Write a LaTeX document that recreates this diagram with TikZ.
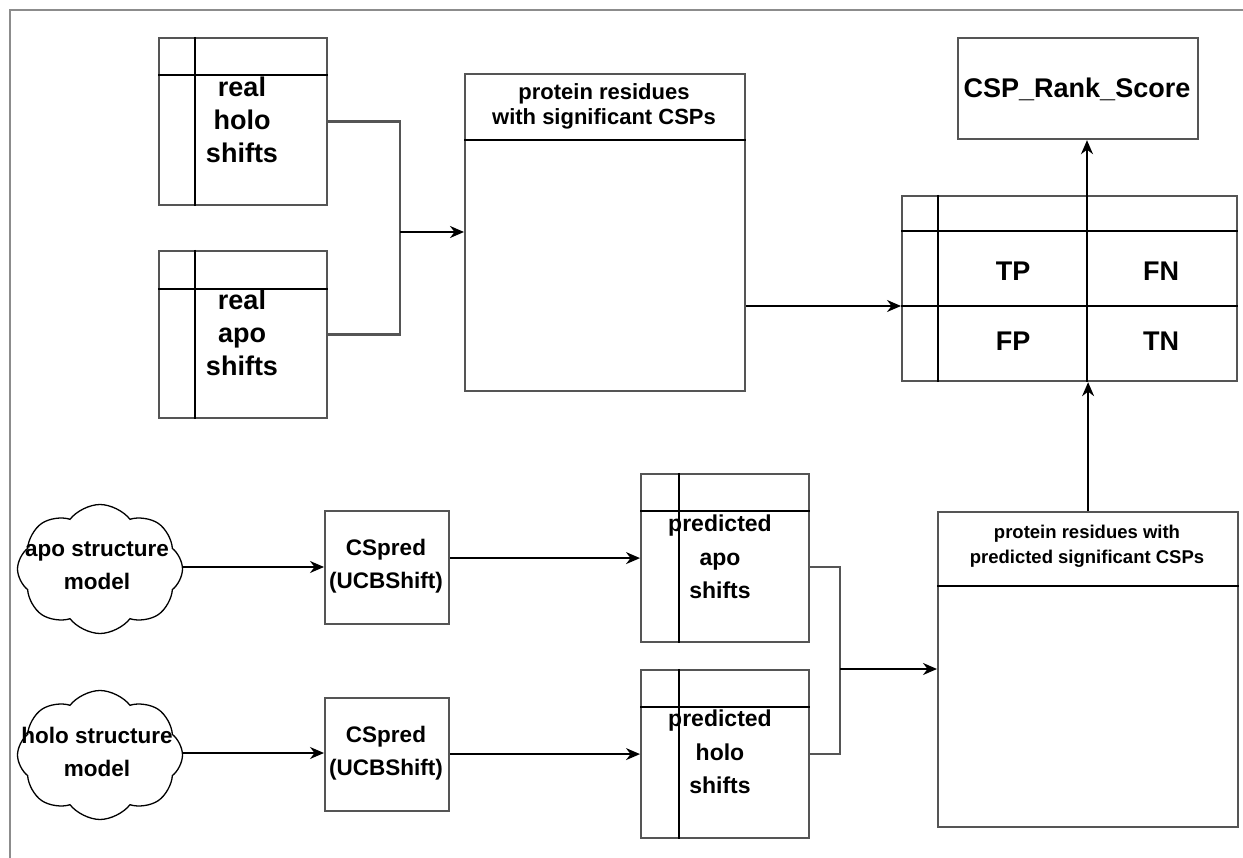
\documentclass[tikz,border=0pt]{standalone}
\usepackage{fontspec}
\setmainfont{Liberation Sans}
\usetikzlibrary{shapes.symbols,arrows.meta,calc}
\definecolor{boxgray}{RGB}{85,85,85}
\definecolor{framegray}{RGB}{140,140,140}
\newcommand\fBig{\fontsize{27}{33}\selectfont\bfseries}
\newcommand\fMid{\fontsize{23}{33.5}\selectfont\bfseries}
\newcommand\fHead{\fontsize{22}{25}\selectfont\bfseries}
\newcommand\fSmall{\fontsize{18.5}{25}\selectfont\bfseries}
\newcommand\fCs{\fontsize{22.5}{33}\selectfont\bfseries}
\begin{document}
\begin{tikzpicture}[x=1pt,y=-1pt,
  box/.style={draw=boxgray,line width=2.2pt,rectangle,inner sep=0pt,anchor=north west},
  inner/.style={draw=black,line width=1.4pt},
  joinline/.style={draw=boxgray,line width=2.2pt},
  arr/.style={draw=black,line width=1.7pt,-{Stealth[length=14pt,width=12pt]}},
  txt/.style={align=center,inner sep=0pt,text=black},
  cloudy/.style={shape=cloud,draw=black,line width=1.3pt,cloud puffs=8,cloud puff arc=105,
     cloud ignores aspect,minimum width=165pt,minimum height=129pt,inner sep=0pt}]
\useasboundingbox (0,0) rectangle (1243,858);
\fill[white] (0,0) rectangle (1243,858);
% frame
\draw[draw=framegray,line width=2pt] (9.5,858) -- (9.5,10) -- (1243,10);

% real holo shifts
\node[box,minimum width=168pt,minimum height=167pt] (rh) at (158,37) {};
\draw[inner] ($(rh.north west)+(0,38)$) -- ($(rh.north east)+(0,38)$);
\draw[inner] ($(rh.north west)+(37,0)$) -- ($(rh.south west)+(37,0)$);
\node[txt,font=\fBig] (rht) at (242,120) {real\\holo\\shifts};

% real apo shifts
\node[box,minimum width=168pt,minimum height=167pt] (ra) at (158,250) {};
\draw[inner] ($(ra.north west)+(0,39)$) -- ($(ra.north east)+(0,39)$);
\draw[inner] ($(ra.north west)+(37,0)$) -- ($(ra.south west)+(37,0)$);
\node[txt,font=\fBig] (rat) at (242,333) {real\\apo\\shifts};

% center box
\node[box,minimum width=280pt,minimum height=317pt] (ctr) at (464,73) {};
\draw[inner] ($(ctr.north west)+(0,67)$) -- ($(ctr.north east)+(0,67)$);
\node[txt,font=\fHead] (ctrt) at (604,106) {protein residues\\with significant CSPs};

% CSP rank score
\node[box,minimum width=240pt,minimum height=101pt] (csp) at (957,37) {};
\node[txt,font=\fBig] (cspt) at (1077,89) {CSP\_Rank\_Score};

% confusion matrix
\node[box,minimum width=335pt,minimum height=185pt] (cm) at (901,195) {};
\draw[inner] ($(cm.north west)+(0,36)$) -- ($(cm.north east)+(0,36)$);
\draw[inner] ($(cm.north west)+(0,111)$) -- ($(cm.north east)+(0,111)$);
\draw[inner] ($(cm.north west)+(37,0)$) -- ($(cm.south west)+(37,0)$);
\draw[inner] ($(cm.north west)+(186,0)$) -- ($(cm.south west)+(186,0)$);
\node[txt,font=\fBig] (tp) at (1013,271) {TP};
\node[txt,font=\fBig] (fn) at (1161,271) {FN};
\node[txt,font=\fBig] (fp) at (1013,341) {FP};
\node[txt,font=\fBig] (tn) at (1161,341) {TN};

% bottom box
\node[box,minimum width=300pt,minimum height=315pt] (bot) at (937,511) {};
\draw[inner] ($(bot.north west)+(0,75)$) -- ($(bot.north east)+(0,75)$);
\node[txt,font=\fSmall] (bott) at (1087,546) {protein residues with\\predicted significant CSPs};

% clouds
\node[cloudy] (apoc) at (100,569) {};
\node[txt,font=\fCs] (apoct) at (97,566) {apo structure\\model};
\node[cloudy] (holoc) at (100,755) {};
\node[txt,font=\fCs] (holoct) at (97,752) {holo structure\\model};

% CSpred boxes
\node[box,minimum width=124pt,minimum height=113pt] (cs1) at (324,510) {};
\node[txt,font=\fCs] (cs1t) at (386,566) {CSpred\\(UCBShift)};
\node[box,minimum width=124pt,minimum height=113pt] (cs2) at (324,697) {};
\node[txt,font=\fCs] (cs2t) at (386,753) {CSpred\\(UCBShift)};

% predicted tables
\node[box,minimum width=168pt,minimum height=168pt] (pa) at (640,473) {};
\draw[inner] ($(pa.north west)+(0,38)$) -- ($(pa.north east)+(0,38)$);
\draw[inner] ($(pa.north west)+(39,0)$) -- ($(pa.south west)+(39,0)$);
\node[txt,font=\fMid] (pat) at (720,557) {predicted\\apo\\shifts};
\node[box,minimum width=168pt,minimum height=168pt] (ph) at (640,669) {};
\draw[inner] ($(ph.north west)+(0,38)$) -- ($(ph.north east)+(0,38)$);
\draw[inner] ($(ph.north west)+(39,0)$) -- ($(ph.south west)+(39,0)$);
\node[txt,font=\fMid] (pht) at (720,752) {predicted\\holo\\shifts};

% connectors
\coordinate (j1) at (400,232);
\draw[joinline] (rh.east) -| (j1);
\draw[joinline] (ra.east) -| (j1);
\draw[arr,line width=2.2pt] (j1) -- (j1 -| ctr.west);

\coordinate (cmin) at ($(cm.north west)+(0,111)$);
\draw[arr] (cmin -| ctr.east) -- (cmin);

\coordinate (cmtop) at ($(cm.north west)+(186,0)$);
\draw[arr] (cmtop) -- (cmtop |- csp.south);
\draw[arr] (bot.north) -- (bot.north |- cm.south);

\draw[arr] (apoc.east |- 0,567) -- (cs1.west |- 0,567);
\draw[arr] (holoc.east |- 0,753) -- (cs2.west |- 0,753);
\draw[arr] (pa.west -| cs1.east) -- (pa.west);
\draw[arr] (ph.west -| cs2.east) -- (ph.west);

\coordinate (j2) at (840,669);
\draw[joinline] (pa.east |- 0,567) -| (j2);
\draw[joinline] (ph.east) -| (j2);
\draw[arr,line width=2.2pt] (j2) -- (j2 -| bot.west);
\end{tikzpicture}
\end{document}
